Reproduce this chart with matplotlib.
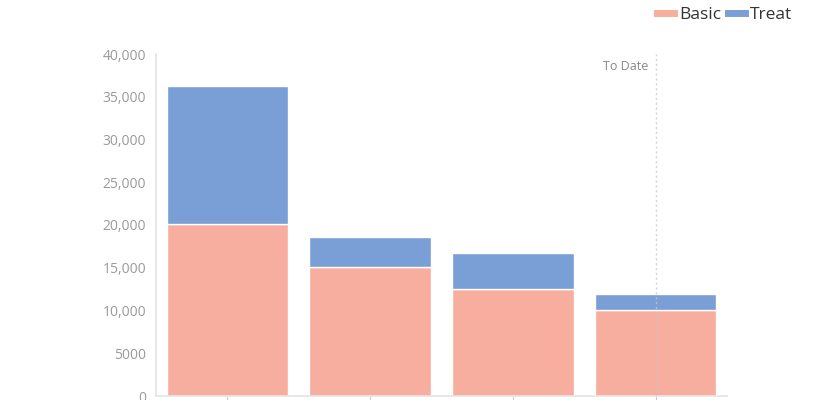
import numpy as np
import matplotlib.pyplot as plt
from matplotlib.lines import Line2D

plt.rcParams['font.family'] = ['Open Sans', 'DejaVu Sans']

categories = ["A", "B", "C", "D"]
basic = [20100, 15100, 12500, 10100]
treat = [16200, 3500, 4200, 1800]
to_date_idx = 3

c_basic = "#f7ae9f"
c_treat = "#7a9ed6"
grey_txt = "#9a9a9a"
grey_line = "#e4e4e4"

fig = plt.figure(figsize=(8.4, 4), dpi=100)
ax = fig.add_axes([0.1857, 0.01, 0.68, 0.855])

x = np.arange(len(categories))
ax.bar(x, basic, width=0.85, color=c_basic, edgecolor="white", linewidth=1)
ax.bar(x, treat, width=0.85, bottom=basic, color=c_treat, edgecolor="white", linewidth=1)

ax.set_xlim(-0.5, len(categories) - 0.5)
ax.set_ylim(0, 40000)
ticks = list(range(0, 40001, 5000))
ax.set_yticks(ticks)
ax.set_yticklabels([f"{v:,}" if v >= 10000 else str(v) for v in ticks])
ax.set_xticks(x)
ax.set_xticklabels([])

for side in ["top", "right"]:
    ax.spines[side].set_visible(False)
for side in ["left", "bottom"]:
    ax.spines[side].set_color(grey_line)
    ax.spines[side].set_linewidth(1.2)
ax.tick_params(axis="y", length=0, pad=7, labelsize=10, labelcolor=grey_txt)
ax.tick_params(axis="x", length=5, color="#cccccc")

# "To Date" marker
ax.axvline(to_date_idx, color="#c8c8c8", linestyle=(0, (1.5, 2)), linewidth=1,
           alpha=0.8, zorder=3)
ax.text(to_date_idx - 0.05, 38500, "To Date", ha="right", va="center",
        fontsize=9, color="#888888")

handles = [Line2D([0], [0], color=c_basic, lw=5),
           Line2D([0], [0], color=c_treat, lw=5)]
fig.legend(handles, ["Basic", "Treat"], loc="upper right", bbox_to_anchor=(0.962, 1.022),
           ncol=2, frameon=False, fontsize=12.5, handlelength=1.0, handletextpad=0.3,
           columnspacing=0.35, labelcolor="#333333")

fig.savefig("out.png", dpi=100)
